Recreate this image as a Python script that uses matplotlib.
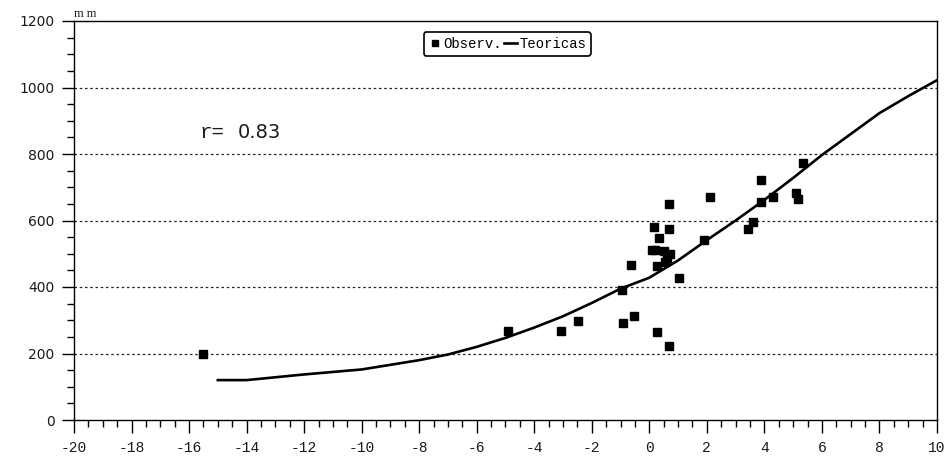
import matplotlib.pyplot as plt
from matplotlib.ticker import MultipleLocator

# observed values (x, mm)
obs_x = [-15.5, -4.9, -3.08, -2.48, -0.91, -0.54, 0.25, 0.67, -0.94, -0.65,
         1.04, 0.25, 0.54, 0.63, 0.71, 0.52, 0.08, 0.19, 0.34, 0.17,
         0.69, 0.69, 2.11, 1.9, 5.35, 3.87, 3.87, 4.31, 5.1, 5.18,
         3.61, 3.42]
obs_y = [198, 268, 268, 298, 291, 314, 264, 224, 391, 466,
         428, 463, 476, 486, 499, 509, 511, 511, 546, 580,
         574, 650, 672, 541, 772, 722, 657, 672, 682, 664,
         596, 573]

# theoretical curve
teo_x = [-15, -14, -12, -10, -8, -7, -6, -5, -4, -3, -2, -1, 0, 1, 2, 3, 4, 5, 6, 7, 8, 9, 10]
teo_y = [120, 120, 137, 152, 180, 197, 220, 247, 278, 312, 352, 395, 428, 480, 541, 600, 662, 728, 797, 860, 923, 974, 1022]

xticks = list(range(-20, 11, 2))
yticks = list(range(0, 1201, 200))
r_text = "0.83"

mono = "Liberation Mono"
txt_col = "#1a1a1a"

fig = plt.figure(figsize=(9.49, 4.58), dpi=100)
ax = fig.add_axes([74 / 949, 38 / 458, 863 / 949, 399 / 458])

for y in yticks[1:-1]:
    ax.axhline(y, color="#222222", lw=0.9, ls=(0, (2, 2.2)), zorder=1)

ax.plot(teo_x, teo_y, color="black", lw=1.9, zorder=3, label="Teoricas")
ax.plot(obs_x, obs_y, ls="none", marker="s", ms=5.7, color="black",
        zorder=4, label="Observ.")

ax.set_xlim(-20, 10)
ax.set_ylim(0, 1200)
ax.set_xticks(xticks)
ax.set_yticks(yticks)
ax.xaxis.set_minor_locator(MultipleLocator(0.5))
ax.yaxis.set_minor_locator(MultipleLocator(50))
ax.set_xticklabels([str(v) for v in xticks], family=mono, fontsize=10.5, color=txt_col)
ax.set_yticklabels([str(v) for v in yticks], family="DejaVu Sans", fontsize=10, color=txt_col)
ax.tick_params(which="major", length=9, width=1, direction="out")
ax.tick_params(which="minor", length=5, width=1, direction="out")
ax.tick_params(axis="x", pad=6)
ax.tick_params(axis="y", pad=5)
for s in ax.spines.values():
    s.set_linewidth(1)

ax.text(0.0, 1.003, "m m", transform=ax.transAxes, family="Liberation Serif",
        fontsize=9, ha="left", va="bottom", color=txt_col)

ax.text(-15.65, 866, "r=", family=mono, fontsize=15, ha="left", va="center", color=txt_col)
ax.text(-14.3, 866, r_text, family="DejaVu Sans", fontsize=14, ha="left", va="center", color=txt_col)

h, l = ax.get_legend_handles_labels()
leg = ax.legend(h[::-1], l[::-1], loc="center", bbox_to_anchor=(0.502, 0.942),
                ncol=2, prop={"family": mono, "size": 10}, frameon=True,
                fancybox=True, edgecolor="black", handlelength=0.9,
                handletextpad=0.15, columnspacing=0.2, borderpad=0.35,
                borderaxespad=0, markerscale=0.7)
leg.get_frame().set_linewidth(1.2)
leg.get_frame().set_alpha(1)

fig.savefig("out.png", dpi=100)
